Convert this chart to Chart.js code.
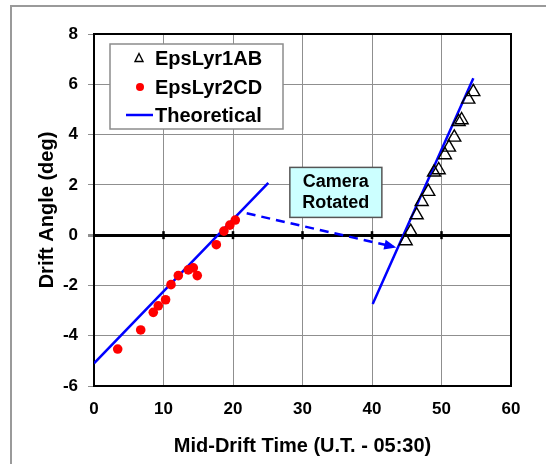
<!DOCTYPE html>
<html>
<head>
<meta charset="utf-8">
<script src="https://cdn.jsdelivr.net/npm/chart.js@4.4.1/dist/chart.umd.min.js"></script>
<style>
  html, body { margin: 0; padding: 0; background: #fff; }
</style>
</head>
<body>
<canvas id="chart" width="546" height="464"></canvas>
<script>
// EpsLyr1AB (triangles)
const triTimes  = [44.85, 45.57, 46.43, 47.15, 48.1, 48.92, 49.6, 50.5, 51.08, 51.84, 52.47, 52.9, 53.86, 54.58];
const triAngles = [-0.23, 0.14, 0.80, 1.33, 1.73, 2.50, 2.59, 3.19, 3.49, 3.89, 4.51, 4.58, 5.40, 5.70];
// EpsLyr2CD (red dots)
const dotTimes  = [3.41, 6.72, 8.53, 9.25, 10.3, 11.08, 12.13, 13.57, 14.29, 14.86, 17.6, 18.69, 19.55, 20.33];
const dotAngles = [-4.53, -3.77, -3.07, -2.81, -2.57, -1.97, -1.61, -1.38, -1.30, -1.61, -0.38, 0.16, 0.40, 0.60];
// Theoretical (two segments, null = gap)
const theoryTimes  = [0, 25.08, 32, 40.1, 54.58];
const theoryAngles = [-5.10, 2.08, null, -2.74, 6.24];
// dashed "camera rotated" arrow
const arrowTimes  = [21.97, 43.07];
const arrowAngles = [0.87, -0.46];
const noteLines = ['Camera', 'Rotated'];

const FONT = "'Liberation Sans', Arial, sans-serif";
const BLUE = '#0000ff';

function pts(xs, ys) {
  return xs.map((x, i) => ({ x: x, y: ys[i] }));
}

const decor = {
  id: 'decor',
  beforeDraw(chart) {
    const ctx = chart.ctx;
    ctx.save();
    ctx.strokeStyle = '#9a9a9a';
    ctx.lineWidth = 2;
    ctx.beginPath();
    ctx.moveTo(11, 464); ctx.lineTo(11, 6); ctx.lineTo(546, 6);
    ctx.stroke();
    ctx.restore();
  },
  beforeDatasetsDraw(chart) {
    const ctx = chart.ctx, a = chart.chartArea;
    const xs = chart.scales.x, ys = chart.scales.y;
    ctx.save();
    // frame
    ctx.strokeStyle = '#000';
    ctx.lineWidth = 2;
    ctx.strokeRect(a.left, a.top, a.right - a.left, a.bottom - a.top);
    // little ticks on the zero line
    const y0 = ys.getPixelForValue(0);
    ctx.lineWidth = 2.5;
    for (let v = 10; v < 60; v += 10) {
      const x = xs.getPixelForValue(v);
      ctx.beginPath(); ctx.moveTo(x, y0 - 4); ctx.lineTo(x, y0 + 4); ctx.stroke();
    }
    ctx.restore();
  },
  afterDatasetsDraw(chart) {
    const ctx = chart.ctx;
    const xs = chart.scales.x, ys = chart.scales.y;
    ctx.save();

    // arrowhead at end of dashed line
    const x0 = xs.getPixelForValue(arrowTimes[0]), y0 = ys.getPixelForValue(arrowAngles[0]);
    const x1 = xs.getPixelForValue(arrowTimes[1]), y1 = ys.getPixelForValue(arrowAngles[1]);
    const ang = Math.atan2(y1 - y0, x1 - x0);
    ctx.fillStyle = BLUE;
    ctx.beginPath();
    ctx.moveTo(x1 + 3 * Math.cos(ang), y1 + 3 * Math.sin(ang));
    ctx.lineTo(x1 - 9 * Math.cos(ang) + 5 * Math.sin(ang), y1 - 9 * Math.sin(ang) - 5 * Math.cos(ang));
    ctx.lineTo(x1 - 9 * Math.cos(ang) - 5 * Math.sin(ang), y1 - 9 * Math.sin(ang) + 5 * Math.cos(ang));
    ctx.closePath();
    ctx.fill();

    // note box
    const cx = xs.getPixelForValue(34.8), cy = ys.getPixelForValue(1.7);
    const bw = 92, bh = 50;
    ctx.fillStyle = '#ccffff';
    ctx.fillRect(cx - bw / 2, cy - bh / 2, bw, bh);
    ctx.strokeStyle = '#555';
    ctx.lineWidth = 1.5;
    ctx.strokeRect(cx - bw / 2, cy - bh / 2, bw, bh);
    ctx.fillStyle = '#000';
    ctx.font = 'bold 18px ' + FONT;
    ctx.textAlign = 'center';
    ctx.textBaseline = 'middle';
    ctx.fillText(noteLines[0], cx, cy - 10);
    ctx.fillText(noteLines[1], cx, cy + 11);

    // legend
    const lx = 110, ly = 44, lw = 173, lh = 85;
    ctx.fillStyle = '#fff';
    ctx.fillRect(lx, ly, lw, lh);
    ctx.strokeStyle = '#8c8c8c';
    ctx.lineWidth = 1.5;
    ctx.strokeRect(lx, ly, lw, lh);
    const ds = chart.data.datasets;
    const rows = [58, 87, 115];
    ctx.font = 'bold 20px ' + FONT;
    ctx.textAlign = 'left';
    ctx.textBaseline = 'middle';
    for (let i = 0; i < 3; i++) {
      const y = rows[i];
      const d = ds[i];
      if (i === 0) {
        ctx.strokeStyle = d.borderColor; ctx.lineWidth = 1.4;
        ctx.beginPath();
        ctx.moveTo(139, y - 4.5); ctx.lineTo(143, y + 3.5); ctx.lineTo(135, y + 3.5); ctx.closePath();
        ctx.stroke();
      } else if (i === 1) {
        ctx.fillStyle = d.backgroundColor;
        ctx.beginPath(); ctx.arc(140, y, 4, 0, Math.PI * 2); ctx.fill();
      } else {
        ctx.strokeStyle = d.borderColor; ctx.lineWidth = 2.5;
        ctx.beginPath(); ctx.moveTo(126, y); ctx.lineTo(153, y); ctx.stroke();
      }
      ctx.fillStyle = '#000';
      ctx.fillText(d.label, 155, y + 1);
    }
    ctx.restore();
  }
};

new Chart(document.getElementById('chart'), {
  type: 'scatter',
  data: {
    datasets: [
      {
        label: 'EpsLyr1AB',
        data: pts(triTimes, triAngles),
        pointStyle: 'triangle',
        pointRadius: 7.5,
        pointBorderWidth: 1.4,
        borderColor: '#000',
        backgroundColor: 'rgba(255,255,255,0)',
        order: 0
      },
      {
        label: 'EpsLyr2CD',
        data: pts(dotTimes, dotAngles),
        pointStyle: 'circle',
        pointRadius: 4.8,
        borderWidth: 0,
        borderColor: '#ff0000',
        backgroundColor: '#ff0000',
        order: 1
      },
      {
        label: 'Theoretical',
        type: 'line',
        data: pts(theoryTimes, theoryAngles),
        borderColor: BLUE,
        backgroundColor: BLUE,
        borderWidth: 2.5,
        pointRadius: 0,
        spanGaps: false,
        fill: false,
        tension: 0,
        order: 2
      },
      {
        label: 'rotation',
        type: 'line',
        data: pts(arrowTimes, arrowAngles),
        borderColor: BLUE,
        borderWidth: 2.5,
        borderDash: [9, 6],
        pointRadius: 0,
        fill: false,
        order: 3
      }
    ]
  },
  options: {
    responsive: false,
    animation: false,
    events: [],
    layout: { padding: { top: 34, right: 35, left: 0, bottom: 0 } },
    plugins: { legend: { display: false }, tooltip: { enabled: false } },
    scales: {
      x: {
        type: 'linear',
        min: 0, max: 60,
        afterFit: s => { s.height = 78; },
        ticks: { stepSize: 10, color: '#000', padding: 13, font: { family: FONT, size: 17, weight: 'bold' } },
        grid: { color: '#8f8f8f', lineWidth: 1, tickLength: 0, drawTicks: false },
        border: { color: '#000', width: 2 },
        title: { display: true, text: 'Mid-Drift Time (U.T. - 05:30)', color: '#000',
                 font: { family: FONT, size: 20, weight: 'bold' }, padding: { top: 0, bottom: 6 } }
      },
      y: {
        type: 'linear',
        min: -6, max: 8,
        afterFit: s => { s.width = 94; },
        ticks: { stepSize: 2, color: '#000', padding: 10, font: { family: FONT, size: 17, weight: 'bold' } },
        grid: {
          color: c => c.tick && c.tick.value === 0 ? '#000' : '#8f8f8f',
          lineWidth: c => c.tick && c.tick.value === 0 ? 3 : 1,
          tickColor: '#8f8f8f',
          tickLength: 6
        },
        border: { color: '#000', width: 2 },
        title: { display: true, text: 'Drift Angle (deg)', color: '#000',
                 font: { family: FONT, size: 20, weight: 'bold' }, padding: { top: 35, bottom: 0 } }
      }
    }
  },
  plugins: [decor]
});
</script>
</body>
</html>
